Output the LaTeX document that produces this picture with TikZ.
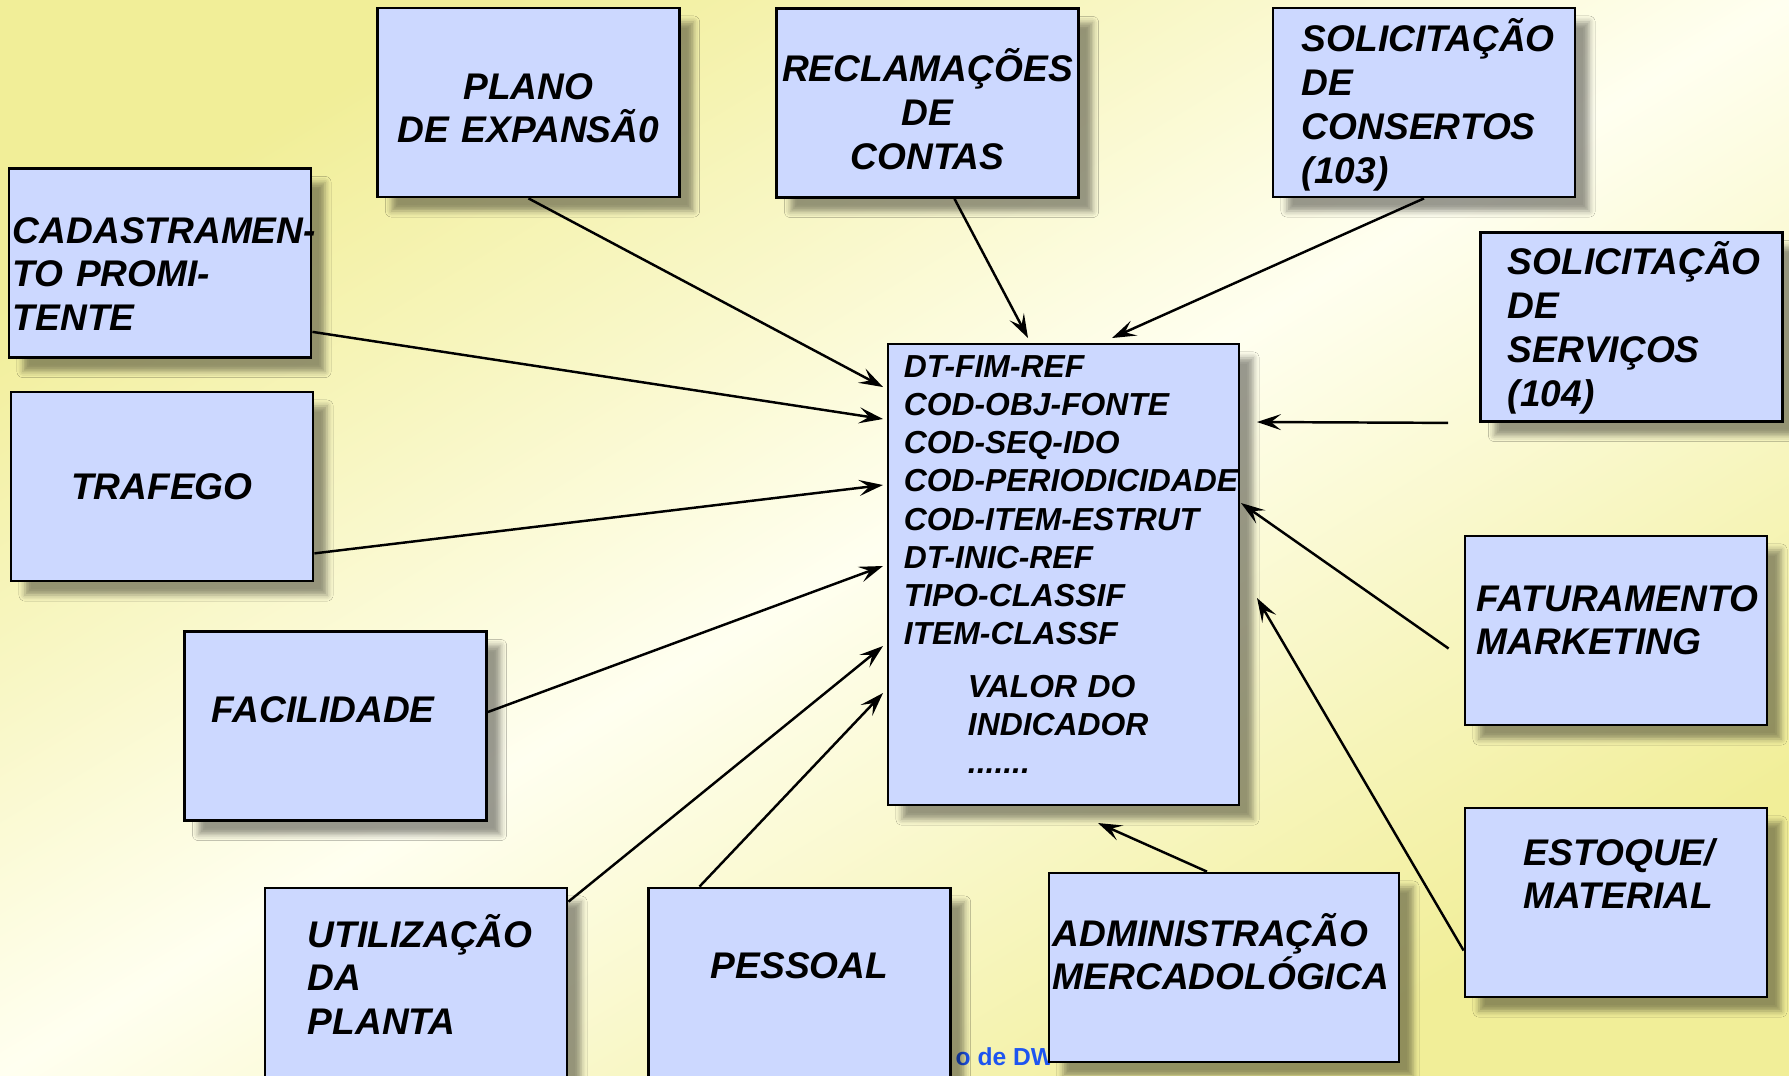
\documentclass[tikz,border=0pt]{standalone}
\usepackage{fontspec}
\setsansfont{Liberation Sans}
\usepackage{tikz}
\usetikzlibrary{positioning, arrows.meta, shadows.blur}
\definecolor{boxblue}{RGB}{204,216,255}
\definecolor{bgyellow}{RGB}{241,238,152}
\definecolor{bgwhite}{RGB}{255,255,240}
\definecolor{footblue}{RGB}{30,85,240}
\hyphenpenalty=10000
\exhyphenpenalty=10000

\begin{document}
\begin{tikzpicture}[x=0.01cm, y=-0.01cm,
  src node/.style={rectangle, draw=black, line width=0.75pt, fill=boxblue,
    minimum width=3.02cm, minimum height=1.89cm, inner sep=0pt,
    blur shadow={shadow xshift=0.14cm, shadow yshift=-0.14cm, shadow blur radius=0.06cm, shadow opacity=40},
    font=\sffamily\bfseries\itshape\fontsize{10.55}{12.5}\selectfont},
  first line/.style={text height=0pt, text depth=#1},
  flow/.style={-{Stealth[length=0.24cm, width=0.16cm, inset=0.1cm]}, line width=0.7pt}]

\useasboundingbox (0,0) rectangle (1789,1075);
\shade[top color=bgyellow, bottom color=bgyellow, middle color=bgwhite, shading angle=31]
  (0,0) rectangle (1789,1075);

\node[anchor=base west, inner sep=0pt, text=footblue,
  font=\sffamily\bfseries\fontsize{7}{8}\selectfont] (foot) at (955,1065) {o de DW};

% sources
\node[src node, text width=3.02cm, align=center, first line=0.07cm] (plano) at (528.5,102.5) {PLANO\\DE EXPANSÃ0};
\node[src node, text width=3.02cm, align=center, first line=0.42cm] (recl) at (927.5,103) {RECLAMAÇÕES\\DE\\CONTAS};
\node[src node, text width=2.44cm, align=left, first line=1.01cm] (cons) at (1424,102.5) {SOLICITAÇÃO\\DE\\CONSERTOS\\(103)};
\node[src node, text width=2.94cm, align=left, first line=0.40cm] (cad) at (160,263) {CADASTRAMEN-\\TO PROMI-\\TENTE};
\node[src node, text width=2.47cm, align=left, first line=1.04cm] (serv) at (1631.5,327) {SOLICITAÇÃO\\DE\\SERVIÇOS\\(104)};
\node[src node, align=center] (traf) at (162,486.5) {TRAFEGO};
\node[src node, text width=2.78cm, align=left, first line=0.39cm] (fat) at (1616,630.5) {FATURAMENTO\\MARKETING};
\node[src node, text width=2.47cm, align=left, first line=0.08cm] (fac) at (335.5,726) {FACILIDADE};
\node[src node, text width=1.84cm, align=left, first line=0.75cm] (est) at (1616,902.5) {ESTOQUE/\\MATERIAL};
\node[src node, text width=2.16cm, align=left, first line=0.71cm] (util) at (416,982.5) {UTILIZAÇÃO\\DA\\PLANTA};
\node[src node, align=center, first line=0.09cm] (pess) at (799.5,982.5) {PESSOAL};
\node[src node, minimum width=3.5cm, text width=3.42cm, align=left, first line=0.43cm] (adm) at (1224,967.5) {ADMINISTRAÇÃO\\MERCADOLÓGICA};

% indicator
\node[src node, minimum width=3.51cm, minimum height=4.61cm, text width=3.19cm, align=left, first line=3.94cm,
  font=\sffamily\bfseries\itshape\fontsize{9.05}{10.85}\selectfont] (ind) at (1063.5,574.5)
  {DT-FIM-REF\\COD-OBJ-FONTE\\COD-SEQ-IDO\\COD-PERIODICIDADE\\COD-ITEM-ESTRUT\\DT-INIC-REF\\TIPO-CLASSIF\\ITEM-CLASSF\\[0.145cm]
   \hspace*{0.64cm}VALOR DO\\\hspace*{0.64cm}INDICADOR\\\hspace*{0.64cm}.......};

\coordinate (p1) at (883,387);
\coordinate (p2) at (1028,338);
\coordinate (p3) at (1112,338);
\coordinate (p4) at (883,419);
\coordinate (p5) at (1257,422);
\coordinate (p6) at (883,485);
\coordinate (p7) at (1241,503);
\coordinate (p8) at (883,566);
\coordinate (p9) at (1257,598);
\coordinate (p10) at (883,646);
\coordinate (p11) at (883,693);
\coordinate (p12) at (1098,823);

\path[flow]
(plano.south) edge (p1)
([xshift=0.27cm]recl.south) edge (p2)
(cons.south) edge (p3)
([yshift=0.27cm]cad.south east) edge (p4)
([xshift=-0.31cm]serv.south west) edge (p5)
([yshift=0.29cm]traf.south east) edge (p6)
([xshift=-0.15cm, yshift=-0.18cm]fat.west) edge (p7)
([yshift=0.14cm]fac.east) edge (p8)
([yshift=-0.48cm]est.west) edge (p9)
([yshift=-0.15cm]util.north east) edge (p10)
([xshift=-1cm]pess.north) edge (p11)
([xshift=-0.17cm]adm.north) edge (p12)
;

\end{tikzpicture}
\end{document}
